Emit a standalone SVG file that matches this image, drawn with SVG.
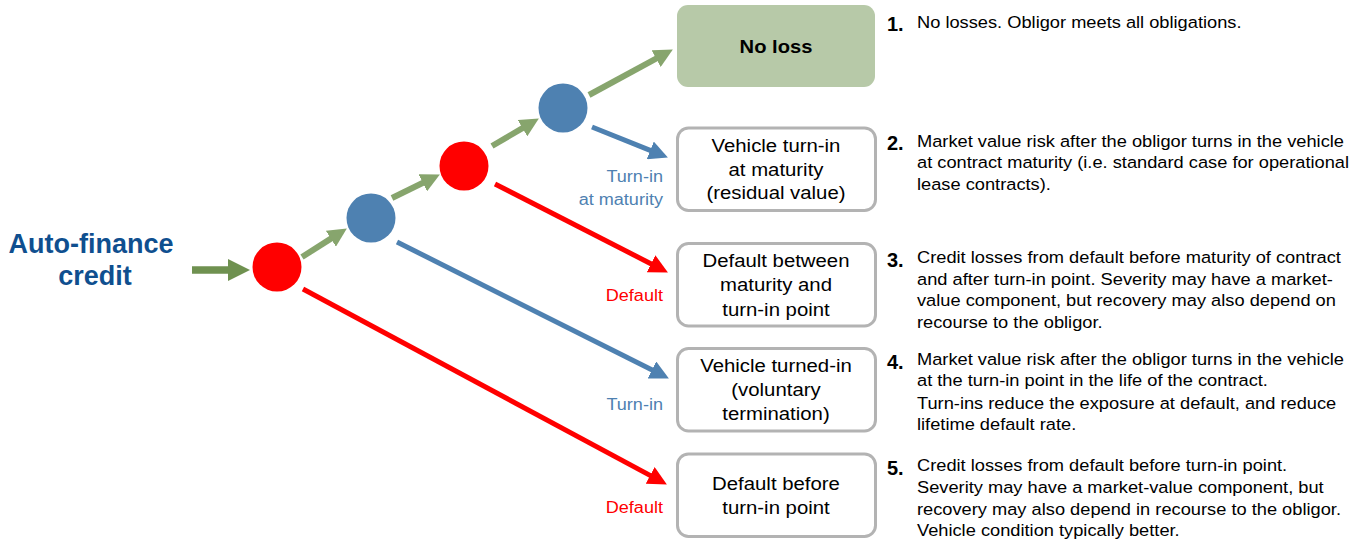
<svg xmlns="http://www.w3.org/2000/svg" width="1364" height="542" viewBox="0 0 1364 542">
<style>
.t{font-family:"Liberation Sans",Arial,sans-serif;}
.box{fill:#ffffff;stroke:#b3b3b3;stroke-width:3;}
.bt{font-family:"Liberation Sans",Arial,sans-serif;font-size:18.5px;fill:#000;text-anchor:middle;}
.num{font-family:"Liberation Sans",Arial,sans-serif;font-size:20px;font-weight:bold;fill:#000;}
.desc{font-family:"Liberation Sans",Arial,sans-serif;font-size:16.3px;fill:#000;}
.lblb{font-family:"Liberation Sans",Arial,sans-serif;font-size:16px;fill:#4e81b1;text-anchor:end;}
.lblr{font-family:"Liberation Sans",Arial,sans-serif;font-size:16px;fill:#ff0000;text-anchor:end;}
.g{stroke:#87a56d;stroke-width:6;fill:none;}
.b{stroke:#4e81b1;stroke-width:5;fill:none;}
.r{stroke:#ff0000;stroke-width:5;fill:none;}
</style>
<defs>
<marker id="hg" markerUnits="userSpaceOnUse" markerWidth="19" markerHeight="19" refX="2" refY="9.5" orient="auto"><path d="M0,0 L19,9.5 L0,19 z" fill="#87a56d"/></marker>
<marker id="hgL" markerUnits="userSpaceOnUse" markerWidth="22" markerHeight="22" refX="2" refY="11" orient="auto"><path d="M0,0 L22,11 L0,22 z" fill="#6f9150"/></marker>
<marker id="hb" markerUnits="userSpaceOnUse" markerWidth="19" markerHeight="19" refX="2" refY="9.5" orient="auto"><path d="M0,0 L19,9.5 L0,19 z" fill="#4e81b1"/></marker>
<marker id="hr" markerUnits="userSpaceOnUse" markerWidth="19" markerHeight="19" refX="2" refY="9.5" orient="auto"><path d="M0,0 L19,9.5 L0,19 z" fill="#ff0000"/></marker>
</defs>

<g id="title">
<text class="t" x="91" y="253" font-size="27" font-weight="bold" fill="#0f4f8f" text-anchor="middle">Auto-finance</text>
<text class="t" x="95" y="285" font-size="27" font-weight="bold" fill="#0f4f8f" text-anchor="middle">credit</text>
</g>

<g id="connectors">
<line x1="192" y1="270" x2="230" y2="270" stroke="#6f9150" stroke-width="7.5" marker-end="url(#hgL)"/>
<line class="g" x1="302" y1="257" x2="332.5" y2="237.6" marker-end="url(#hg)"/>
<line class="g" x1="392" y1="198" x2="424.6" y2="182" marker-end="url(#hg)"/>
<line class="g" x1="492" y1="146" x2="524.2" y2="127.1" marker-end="url(#hg)"/>
<line class="g" x1="589" y1="95" x2="657.9" y2="57.6" marker-end="url(#hg)"/>
<line class="b" x1="592" y1="127" x2="652.1" y2="151.1" marker-end="url(#hb)"/>
<line class="r" x1="495" y1="184" x2="652.8" y2="264.7" marker-end="url(#hr)"/>
<line class="b" x1="397" y1="242" x2="653.7" y2="370.8" marker-end="url(#hb)"/>
<line class="r" x1="303" y1="289" x2="651.9" y2="476.4" marker-end="url(#hr)"/>
<g transform="matrix(1.13,0,0,1,-86.19,0)">
<text class="lblb" x="663" y="182">Turn-in</text>
<text class="lblb" x="663" y="205">at maturity</text>
<text class="lblr" x="663" y="301">Default</text>
<text class="lblb" x="663" y="410">Turn-in</text>
<text class="lblr" x="663" y="513">Default</text>
</g>
</g>

<g id="c1"><circle cx="277" cy="267" r="24.5" fill="#ff0000"/></g>
<g id="c2"><circle cx="371" cy="218" r="24.5" fill="#4e81b1"/></g>
<g id="c3"><circle cx="464" cy="166" r="24.5" fill="#ff0000"/></g>
<g id="c4"><circle cx="563" cy="108" r="24.5" fill="#4e81b1"/></g>

<g id="n1">
<rect x="677" y="5" width="198" height="82" rx="11" fill="#b7c9a8"/>
<text class="bt" x="776" y="53" font-weight="bold" transform="matrix(1.09,0,0,1,-69.84,0)">No loss</text>
</g>
<g id="n2">
<rect class="box" x="677.5" y="128" width="198" height="82.5" rx="11"/>
<g transform="matrix(1.1,0,0,1,-77.6,0)">
<text class="bt" x="776" y="152.5">Vehicle turn-in</text>
<text class="bt" x="776" y="176">at maturity</text>
<text class="bt" x="776" y="199.5">(residual value)</text>
</g>
</g>
<g id="n3">
<rect class="box" x="677.5" y="243.5" width="198" height="82.5" rx="11"/>
<g transform="matrix(1.1,0,0,1,-77.6,0)">
<text class="bt" x="776" y="267.5">Default between</text>
<text class="bt" x="776" y="291.5">maturity and</text>
<text class="bt" x="776" y="316">turn-in point</text>
</g>
</g>
<g id="n4">
<rect class="box" x="677.5" y="348.5" width="198" height="82.5" rx="11"/>
<g transform="matrix(1.1,0,0,1,-77.6,0)">
<text class="bt" x="776" y="372">Vehicle turned-in</text>
<text class="bt" x="776" y="396">(voluntary</text>
<text class="bt" x="776" y="420">termination)</text>
</g>
</g>
<g id="n5">
<rect class="box" x="677.5" y="454" width="198" height="82.5" rx="11"/>
<g transform="matrix(1.1,0,0,1,-77.6,0)">
<text class="bt" x="776" y="490">Default before</text>
<text class="bt" x="776" y="514.5">turn-in point</text>
</g>
</g>

<g id="d1">
<text class="num" x="887" y="31">1.</text>
<g transform="matrix(1.12,0,0,1,-110.04,0)">
<text class="desc" x="917" y="28.5">No losses. Obligor meets all obligations.</text>
</g>
</g>
<g id="d2">
<text class="num" x="887" y="150">2.</text>
<g transform="matrix(1.12,0,0,1,-110.04,0)">
<text class="desc" x="917" y="147">Market value risk after the obligor turns in the vehicle</text>
<text class="desc" x="917" y="168.5">at contract maturity (i.e. standard case for operational</text>
<text class="desc" x="917" y="190">lease contracts).</text>
</g>
</g>
<g id="d3">
<text class="num" x="887" y="267">3.</text>
<g transform="matrix(1.12,0,0,1,-110.04,0)">
<text class="desc" x="917" y="263.5">Credit losses from default before maturity of contract</text>
<text class="desc" x="917" y="285">and after turn-in point. Severity may have a market-</text>
<text class="desc" x="917" y="306.5">value component, but recovery may also depend on</text>
<text class="desc" x="917" y="328">recourse to the obligor.</text>
</g>
</g>
<g id="d4">
<text class="num" x="887" y="368.5">4.</text>
<g transform="matrix(1.12,0,0,1,-110.04,0)">
<text class="desc" x="917" y="365">Market value risk after the obligor turns in the vehicle</text>
<text class="desc" x="917" y="386.5">at the turn-in point in the life of the contract.</text>
<text class="desc" x="917" y="408.5">Turn-ins reduce the exposure at default, and reduce</text>
<text class="desc" x="917" y="430">lifetime default rate.</text>
</g>
</g>
<g id="d5">
<text class="num" x="887" y="475">5.</text>
<g transform="matrix(1.12,0,0,1,-110.04,0)">
<text class="desc" x="917" y="471.5">Credit losses from default before turn-in point.</text>
<text class="desc" x="917" y="493">Severity may have a market-value component, but</text>
<text class="desc" x="917" y="515">recovery may also depend in recourse to the obligor.</text>
<text class="desc" x="917" y="536.5">Vehicle condition typically better.</text>
</g>
</g>
</svg>
